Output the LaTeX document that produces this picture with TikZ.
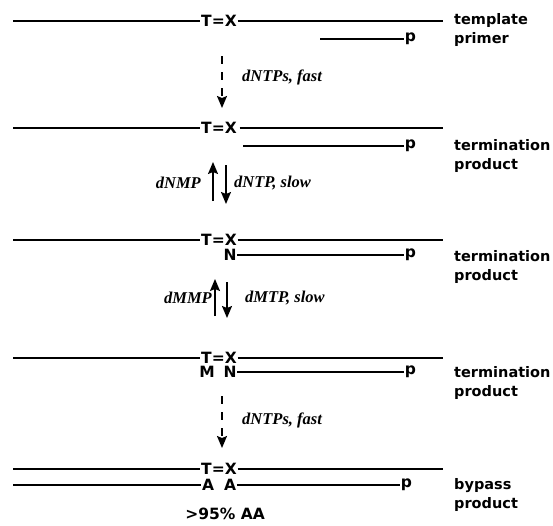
\documentclass[tikz,border=0pt]{standalone}
\usepackage{fontspec}
\setmainfont{DejaVu Sans}
\newfontfamily\rxnfont{Liberation Serif}
\usetikzlibrary{arrows.meta}

\begin{document}
\begin{tikzpicture}[x=1pt,y=-1pt,
    strand/.style={line width=2.1pt},
    base/.style={inner sep=0.6pt,font=\fontsize{15.5}{15.5}\selectfont\bfseries},
    lbl/.style={anchor=west,align=left,inner sep=0pt,font=\fontsize{14.5}{18.5}\selectfont\bfseries},
    rxn/.style={inner sep=0pt,font=\fontsize{16.5}{17}\selectfont\rxnfont\bfseries\itshape},
    fwd/.style={line width=1.5pt,-{Stealth[length=12pt,width=10pt,inset=2pt]}},
    fwddash/.style={fwd,dash pattern=on 8pt off 8pt}]
  \useasboundingbox (0,0) rectangle (553,525);

  % template / primer
  \node[base] (tx1) at (219,21) {T=X};
  \draw[strand] (13,21) -- (tx1.west);
  \draw[strand] (tx1.east) -- (443,21);
  \node[base,anchor=mid west] (p1) at (404,39) {p};
  \coordinate (pr1) at (320,39);
  \draw[strand] (pr1) -- (p1.mid west);
  \node[lbl] (lab1) at (454,30) {template\\primer};

  \coordinate (a1s) at (222,56);
  \coordinate (a1e) at (222,108);
  \draw[fwddash] (a1s) -- (a1e);
  \node[rxn,anchor=west] (r1) at (242,77) {dNTPs, fast};

  % termination product
  \node[base] (tx2) at (219,128) {T=X};
  \draw[strand] (13,128) -- (tx2.west);
  \draw[strand] ([xshift=2pt]tx2.east) -- (443,128);
  \node[base,anchor=mid west] (p2) at (404,146) {p};
  \coordinate (pr2) at (243,146);
  \draw[strand] (pr2) -- (p2.mid west);
  \node[lbl] (lab2) at (454,156) {termination\\product};

  \coordinate (a2u) at (213,201);
  \coordinate (a2t) at (213,162);
  \coordinate (a2s) at (226,165);
  \coordinate (a2e) at (226,204);
  \draw[fwd] (a2u) -- (a2t);
  \draw[fwd] (a2s) -- (a2e);
  \node[rxn,anchor=east] (r2l) at (201,183) {dNMP};
  \node[rxn,anchor=west] (r2r) at (234,183) {dNTP, slow};

  % N incorporated
  \node[base] (tx3) at (219,240) {T=X};
  \draw[strand] (13,240) -- (tx3.west);
  \draw[strand] (tx3.east) -- (443,240);
  \node[base] (n3) at (230,255) {N};
  \node[base,anchor=mid west] (p3) at (404,255) {p};
  \draw[strand] (n3.east) -- (p3.mid west);
  \node[lbl] (lab3) at (454,267) {termination\\product};

  \coordinate (a3u) at (215,316);
  \coordinate (a3t) at (215,279);
  \coordinate (a3s) at (227,282);
  \coordinate (a3e) at (227,318);
  \draw[fwd] (a3u) -- (a3t);
  \draw[fwd] (a3s) -- (a3e);
  \node[rxn,anchor=east] (r3l) at (212,298) {dMMP};
  \node[rxn,anchor=west] (r3r) at (245,298) {dMTP, slow};

  % M N incorporated
  \node[base] (tx4) at (219,358) {T=X};
  \draw[strand] (13,358) -- (tx4.west);
  \draw[strand] (tx4.east) -- (443,358);
  \node[base] (m4) at (207,372) {M};
  \node[base] (n4) at (230,372) {N};
  \node[base,anchor=mid west] (p4) at (404,372) {p};
  \draw[strand] (n4.east) -- (p4.mid west);
  \node[lbl] (lab4) at (454,383) {termination\\product};

  \coordinate (a4s) at (222,396);
  \coordinate (a4e) at (222,448);
  \draw[fwddash] (a4s) -- (a4e);
  \node[rxn,anchor=west] (r4) at (242,420) {dNTPs, fast};

  % bypass product
  \node[base] (tx5) at (219,469) {T=X};
  \draw[strand] (13,469) -- (tx5.west);
  \draw[strand] (tx5.east) -- (443,469);
  \node[base] (a5l) at (208,485) {A};
  \node[base] (a5r) at (230,485) {A};
  \node[base,anchor=mid west] (p5) at (400,485) {p};
  \draw[strand] (13,485) -- (a5l.west);
  \draw[strand] (a5r.east) -- (p5.mid west);
  \node[lbl] (lab5) at (454,495) {bypass\\product};
  \node[base] (yield) at (225,514) {>95\% AA};
\end{tikzpicture}
\end{document}
